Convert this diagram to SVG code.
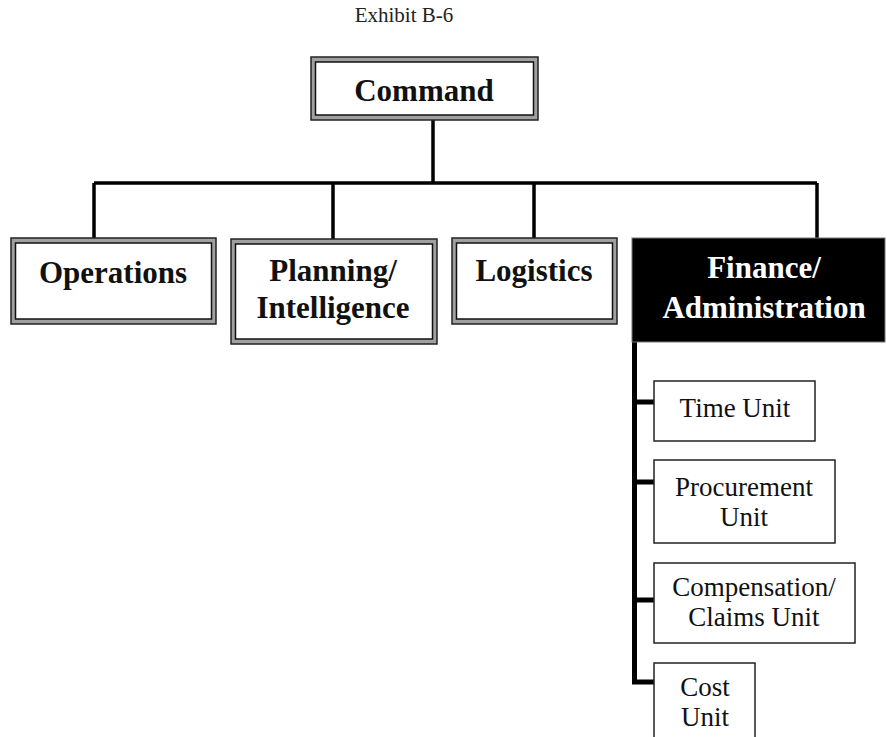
<svg xmlns="http://www.w3.org/2000/svg" width="887" height="737" viewBox="0 0 887 737">
<style>
.outer{fill:#a0a0a0;stroke:#222;stroke-width:1.5}
.inner{fill:#fff;stroke:#111;stroke-width:1.5}
.unit{fill:#fff;stroke:#222;stroke-width:1.5}
.main{font-family:"Liberation Serif",serif;font-weight:bold;font-size:31px;fill:#111;text-anchor:middle}
.mainw{font-family:"Liberation Serif",serif;font-weight:bold;font-size:31px;fill:#fff;text-anchor:middle}
.ut{font-family:"Liberation Serif",serif;font-size:27px;fill:#111;text-anchor:middle}
.title{font-family:"Liberation Serif",serif;font-size:21px;fill:#222;text-anchor:middle}
.conn{fill:none;stroke:#000;stroke-width:3.5}
.conn2{fill:none;stroke:#000;stroke-width:5}
</style>
<rect width="887" height="737" fill="#fff"/>
<text class="title" x="404" y="22">Exhibit B-6</text>
<g id="connectors">
<path class="conn" d="M433,119 V183 M94,183 H817 M94,183 V239 M333,183 V240 M534,183 V239 M817,183 V239"/>
<path class="conn2" d="M634.5,342 V682 M634.5,402 H654 M634.5,482 H654 M634.5,600 H654 M632,682 H654"/>
</g>
<g id="command">
<rect class="outer" x="311" y="57" width="227" height="63"/>
<rect class="inner" x="315.5" y="62" width="218" height="53"/>
<text class="main" x="424" y="101">Command</text>
</g>
<g id="operations">
<rect class="outer" x="11" y="238" width="205" height="86"/>
<rect class="inner" x="15.5" y="243" width="196" height="76"/>
<text class="main" x="113" y="283">Operations</text>
</g>
<g id="planning">
<rect class="outer" x="231" y="239" width="206" height="105"/>
<rect class="inner" x="235.5" y="244" width="197" height="95"/>
<text class="main" x="333" y="281">Planning/</text>
<text class="main" x="333" y="318">Intelligence</text>
</g>
<g id="logistics">
<rect class="outer" x="452" y="238" width="165" height="86"/>
<rect class="inner" x="456.5" y="243" width="156" height="76"/>
<text class="main" x="534" y="281">Logistics</text>
</g>
<g id="finance">
<rect x="632" y="238" width="253" height="104" fill="#000" stroke="#777" stroke-width="1"/>
<text class="mainw" x="764" y="278">Finance/</text>
<text class="mainw" x="764" y="318">Administration</text>
</g>
<g id="time-unit">
<rect class="unit" x="654" y="381" width="161" height="60"/>
<text class="ut" x="735" y="417">Time Unit</text>
</g>
<g id="procurement-unit">
<rect class="unit" x="654" y="460" width="181" height="83"/>
<text class="ut" x="744" y="496">Procurement</text>
<text class="ut" x="744" y="526">Unit</text>
</g>
<g id="compensation-unit">
<rect class="unit" x="654" y="563" width="201" height="80"/>
<text class="ut" x="754" y="596">Compensation/</text>
<text class="ut" x="754" y="626">Claims Unit</text>
</g>
<g id="cost-unit">
<rect class="unit" x="654" y="663" width="101" height="80"/>
<text class="ut" x="705" y="696">Cost</text>
<text class="ut" x="705" y="726">Unit</text>
</g>
</svg>
